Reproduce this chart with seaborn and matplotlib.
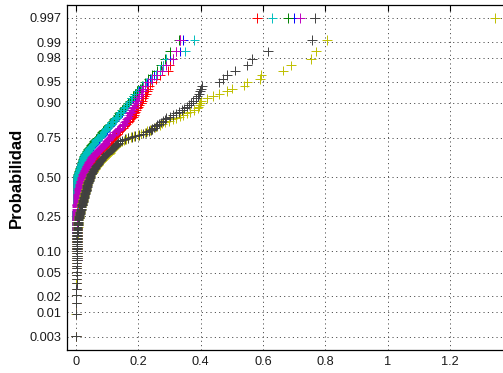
import numpy as np
import pandas as pd
import matplotlib
matplotlib.use("Agg")
import matplotlib.pyplot as plt
import seaborn as sns
from statistics import NormalDist

# ---- data: sorted sample values of each series ----
serie_b = [0.000,0.001,0.001,0.001,0.001,0.002,0.002,0.002,0.002,0.002,
           0.002,0.002,0.003,0.003,0.003,0.003,0.003,0.003,0.003,0.003,
           0.003,0.003,0.004,0.004,0.004,0.004,0.004,0.004,0.004,0.004,
           0.004,0.004,0.004,0.004,0.004,0.004,0.004,0.004,0.004,0.004,
           0.004,0.004,0.004,0.004,0.004,0.004,0.004,0.005,0.005,0.005,
           0.005,0.005,0.005,0.005,0.005,0.005,0.005,0.005,0.005,0.005,
           0.005,0.005,0.005,0.005,0.005,0.005,0.006,0.006,0.006,0.006,
           0.006,0.006,0.006,0.006,0.006,0.006,0.006,0.006,0.006,0.006,
           0.006,0.006,0.007,0.007,0.008,0.008,0.009,0.010,0.011,0.012,
           0.013,0.014,0.015,0.016,0.017,0.018,0.019,0.020,0.021,0.022,
           0.023,0.024,0.025,0.026,0.027,0.029,0.030,0.032,0.033,0.035,
           0.037,0.039,0.041,0.043,0.045,0.048,0.051,0.054,0.057,0.060,
           0.063,0.066,0.069,0.073,0.077,0.080,0.083,0.086,0.089,0.092,
           0.095,0.098,0.101,0.105,0.109,0.113,0.117,0.121,0.125,0.129,
           0.133,0.137,0.141,0.146,0.151,0.156,0.161,0.166,0.171,0.176,
           0.182,0.188,0.195,0.203,0.212,0.220,0.228,0.237,0.250,0.270,
           0.280,0.300,0.335,0.343,0.700]

serie_g = [0.000,0.001,0.001,0.001,0.001,0.002,0.002,0.002,0.002,0.002,
           0.002,0.002,0.003,0.003,0.003,0.003,0.003,0.003,0.003,0.003,
           0.003,0.003,0.004,0.004,0.004,0.004,0.004,0.004,0.004,0.004,
           0.004,0.004,0.004,0.004,0.004,0.004,0.004,0.004,0.004,0.004,
           0.004,0.004,0.004,0.004,0.004,0.004,0.004,0.005,0.005,0.005,
           0.005,0.005,0.005,0.005,0.005,0.005,0.005,0.005,0.005,0.005,
           0.005,0.005,0.005,0.005,0.005,0.005,0.006,0.006,0.006,0.006,
           0.006,0.006,0.006,0.006,0.006,0.006,0.006,0.006,0.006,0.006,
           0.006,0.006,0.006,0.007,0.007,0.007,0.008,0.008,0.009,0.010,
           0.011,0.012,0.013,0.014,0.015,0.016,0.017,0.018,0.019,0.020,
           0.021,0.022,0.023,0.024,0.025,0.026,0.027,0.028,0.030,0.031,
           0.033,0.035,0.037,0.039,0.041,0.043,0.046,0.049,0.052,0.055,
           0.058,0.061,0.064,0.068,0.072,0.075,0.078,0.081,0.084,0.087,
           0.090,0.094,0.098,0.102,0.106,0.110,0.114,0.118,0.122,0.126,
           0.130,0.134,0.138,0.142,0.147,0.152,0.157,0.162,0.167,0.172,
           0.178,0.184,0.190,0.197,0.204,0.212,0.220,0.232,0.245,0.260,
           0.272,0.285,0.300,0.330,0.680]

serie_r = [0.000,0.001,0.001,0.001,0.001,0.002,0.002,0.002,0.002,0.002,
           0.002,0.002,0.003,0.003,0.003,0.003,0.003,0.003,0.003,0.003,
           0.003,0.003,0.004,0.004,0.004,0.004,0.004,0.004,0.004,0.004,
           0.004,0.004,0.004,0.004,0.004,0.004,0.004,0.004,0.004,0.004,
           0.004,0.005,0.005,0.005,0.006,0.006,0.006,0.007,0.007,0.008,
           0.008,0.008,0.009,0.009,0.010,0.010,0.011,0.011,0.012,0.012,
           0.013,0.013,0.014,0.014,0.015,0.015,0.016,0.016,0.017,0.017,
           0.018,0.018,0.019,0.020,0.020,0.021,0.022,0.022,0.023,0.024,
           0.025,0.026,0.027,0.028,0.029,0.030,0.031,0.032,0.033,0.034,
           0.035,0.036,0.037,0.039,0.040,0.042,0.043,0.045,0.046,0.048,
           0.050,0.052,0.054,0.056,0.058,0.060,0.063,0.066,0.069,0.072,
           0.075,0.078,0.081,0.084,0.087,0.091,0.095,0.099,0.103,0.107,
           0.111,0.114,0.117,0.120,0.123,0.126,0.129,0.132,0.135,0.138,
           0.142,0.146,0.150,0.154,0.158,0.162,0.166,0.170,0.174,0.178,
           0.182,0.185,0.188,0.191,0.194,0.197,0.200,0.204,0.208,0.212,
           0.216,0.220,0.224,0.228,0.232,0.236,0.245,0.255,0.270,0.295,
           0.300,0.310,0.320,0.335,0.580]

serie_c = [0.000,0.001,0.001,0.001,0.001,0.002,0.002,0.002,0.002,0.002,
           0.002,0.002,0.003,0.003,0.003,0.003,0.003,0.003,0.003,0.003,
           0.003,0.003,0.004,0.004,0.004,0.004,0.004,0.004,0.004,0.004,
           0.004,0.004,0.004,0.004,0.004,0.004,0.004,0.004,0.004,0.004,
           0.004,0.004,0.004,0.004,0.004,0.004,0.004,0.005,0.005,0.005,
           0.005,0.005,0.005,0.005,0.005,0.005,0.005,0.005,0.005,0.005,
           0.005,0.005,0.005,0.005,0.005,0.005,0.006,0.006,0.006,0.006,
           0.006,0.006,0.006,0.006,0.006,0.006,0.006,0.006,0.006,0.006,
           0.006,0.006,0.006,0.007,0.007,0.008,0.008,0.009,0.010,0.011,
           0.012,0.013,0.014,0.015,0.016,0.017,0.018,0.019,0.020,0.021,
           0.022,0.023,0.024,0.025,0.026,0.028,0.029,0.031,0.032,0.034,
           0.036,0.038,0.040,0.042,0.044,0.047,0.050,0.053,0.056,0.059,
           0.062,0.065,0.068,0.072,0.076,0.079,0.082,0.085,0.088,0.091,
           0.094,0.097,0.100,0.104,0.108,0.112,0.116,0.120,0.124,0.128,
           0.132,0.136,0.140,0.145,0.150,0.155,0.160,0.165,0.170,0.175,
           0.180,0.186,0.192,0.200,0.208,0.216,0.225,0.240,0.255,0.270,
           0.280,0.290,0.350,0.380,0.630]

serie_m = [0.000,0.001,0.001,0.001,0.001,0.002,0.002,0.002,0.002,0.002,
           0.002,0.002,0.003,0.003,0.003,0.003,0.003,0.003,0.003,0.003,
           0.003,0.003,0.004,0.004,0.004,0.004,0.004,0.004,0.004,0.004,
           0.004,0.004,0.004,0.004,0.004,0.004,0.004,0.004,0.004,0.004,
           0.004,0.004,0.004,0.004,0.004,0.004,0.004,0.004,0.004,0.004,
           0.004,0.004,0.004,0.004,0.005,0.005,0.005,0.005,0.006,0.006,
           0.006,0.007,0.007,0.007,0.008,0.008,0.008,0.009,0.009,0.010,
           0.010,0.011,0.012,0.012,0.013,0.014,0.014,0.015,0.016,0.017,
           0.018,0.019,0.020,0.021,0.021,0.022,0.023,0.024,0.025,0.027,
           0.028,0.030,0.031,0.033,0.034,0.036,0.037,0.039,0.040,0.042,
           0.044,0.046,0.048,0.050,0.052,0.055,0.057,0.060,0.062,0.065,
           0.068,0.071,0.074,0.077,0.080,0.083,0.086,0.089,0.092,0.095,
           0.098,0.101,0.104,0.107,0.110,0.114,0.118,0.122,0.126,0.130,
           0.134,0.138,0.142,0.146,0.150,0.153,0.156,0.159,0.162,0.165,
           0.168,0.171,0.174,0.177,0.180,0.183,0.186,0.189,0.192,0.195,
           0.199,0.203,0.207,0.211,0.215,0.220,0.230,0.245,0.260,0.275,
           0.290,0.310,0.320,0.334,0.720]

serie_y = [0.000,0.000,0.001,0.001,0.001,0.001,0.002,0.002,0.002,0.002,
           0.002,0.002,0.002,0.003,0.003,0.003,0.003,0.003,0.003,0.003,
           0.003,0.004,0.004,0.004,0.004,0.004,0.004,0.005,0.005,0.005,
           0.005,0.005,0.006,0.006,0.006,0.007,0.007,0.008,0.008,0.009,
           0.009,0.010,0.011,0.011,0.012,0.013,0.014,0.014,0.015,0.016,
           0.017,0.018,0.018,0.019,0.020,0.021,0.022,0.022,0.023,0.024,
           0.025,0.026,0.026,0.027,0.028,0.029,0.030,0.030,0.031,0.032,
           0.033,0.034,0.034,0.035,0.036,0.037,0.038,0.039,0.040,0.041,
           0.042,0.043,0.044,0.046,0.047,0.049,0.050,0.052,0.054,0.056,
           0.058,0.060,0.062,0.064,0.066,0.068,0.070,0.072,0.075,0.078,
           0.081,0.084,0.087,0.090,0.093,0.096,0.099,0.102,0.105,0.108,
           0.111,0.114,0.117,0.120,0.123,0.126,0.129,0.132,0.136,0.140,
           0.146,0.153,0.160,0.168,0.176,0.186,0.198,0.210,0.220,0.228,
           0.236,0.244,0.252,0.260,0.268,0.276,0.286,0.298,0.310,0.320,
           0.332,0.344,0.355,0.366,0.378,0.390,0.393,0.396,0.398,0.400,
           0.420,0.440,0.460,0.484,0.500,0.540,0.550,0.590,0.595,0.665,
           0.690,0.754,0.770,0.805,1.345]

serie_k = [0.000,0.001,0.001,0.001,0.001,0.002,0.002,0.002,0.002,0.002,
           0.002,0.002,0.003,0.003,0.003,0.003,0.003,0.003,0.003,0.003,
           0.003,0.003,0.004,0.004,0.004,0.004,0.004,0.004,0.004,0.005,
           0.005,0.005,0.005,0.006,0.006,0.006,0.007,0.008,0.008,0.009,
           0.010,0.010,0.011,0.012,0.013,0.013,0.014,0.015,0.016,0.017,
           0.018,0.019,0.019,0.020,0.021,0.022,0.023,0.023,0.024,0.025,
           0.026,0.027,0.027,0.028,0.029,0.030,0.031,0.031,0.032,0.033,
           0.034,0.035,0.035,0.036,0.037,0.038,0.039,0.040,0.041,0.042,
           0.043,0.044,0.045,0.046,0.047,0.048,0.050,0.051,0.053,0.055,
           0.056,0.058,0.060,0.062,0.064,0.066,0.068,0.070,0.072,0.075,
           0.077,0.080,0.082,0.085,0.088,0.091,0.094,0.097,0.100,0.103,
           0.106,0.109,0.112,0.116,0.120,0.123,0.126,0.129,0.132,0.135,
           0.140,0.148,0.158,0.168,0.178,0.190,0.203,0.215,0.225,0.233,
           0.240,0.245,0.250,0.255,0.260,0.266,0.272,0.278,0.285,0.290,
           0.300,0.310,0.320,0.330,0.340,0.348,0.355,0.362,0.368,0.375,
           0.385,0.390,0.395,0.398,0.400,0.405,0.460,0.470,0.485,0.510,
           0.550,0.565,0.616,0.757,0.767]

series_names = ["b", "g", "r", "c", "m", "y", "k"]
series_values = [serie_b, serie_g, serie_r, serie_c, serie_m, serie_y, serie_k]

prob_ticks = [0.003, 0.01, 0.02, 0.05, 0.10, 0.25, 0.50, 0.75, 0.90, 0.95, 0.98, 0.99, 0.997]
prob_labels = ["0.003", "0.01", "0.02", "0.05", "0.10", "0.25", "0.50",
               "0.75", "0.90", "0.95", "0.98", "0.99", "0.997"]
x_ticks = [0, 0.2, 0.4, 0.6, 0.8, 1.0, 1.2]
x_labels = ["0", "0.2", "0.4", "0.6", "0.8", "1", "1.2"]

palette = {"b": (0, 0, 1), "g": (0, 0.5, 0), "r": (1, 0, 0), "c": (0, 0.75, 0.75),
           "m": (0.75, 0, 0.75), "y": (0.75, 0.75, 0), "k": (0.25, 0.25, 0.25)}

# ---- long table with normal-probability plotting positions ----
frames = []
for name, vals in zip(series_names, series_values):
    v = np.sort(np.asarray(vals, float))
    n = len(v)
    p = (np.arange(1, n + 1) - 0.5) / n
    frames.append(pd.DataFrame({"valor": v, "prob": p, "serie": name}))
df = pd.concat(frames, ignore_index=True)

# ---- normal probability scale ----
_nd = NormalDist()
_ppf = np.vectorize(lambda q: _nd.inv_cdf(min(max(float(q), 1e-12), 1 - 1e-12)), otypes=[float])
_cdf = np.vectorize(lambda z: _nd.cdf(float(z)), otypes=[float])

def fwd(p):
    return _ppf(np.asarray(p, float))

def inv(z):
    return _cdf(np.asarray(z, float))

sns.set_style("white")
plt.rcParams["font.family"] = ["Liberation Sans", "DejaVu Sans"]

fig = plt.figure(figsize=(5.03, 3.73), dpi=100)
ax = fig.add_axes([67 / 503, 23 / 373, 436 / 503, 345 / 373])
ax.set_yscale("function", functions=(fwd, inv))

sns.scatterplot(data=df, x="valor", y="prob", hue="serie", palette=palette,
                hue_order=series_names, marker="+", s=48, linewidth=0.7,
                legend=False, ax=ax, zorder=3)

ax.set_xlim(-0.029, 1.370)
ax.set_ylim(_nd.cdf(-2.98), _nd.cdf(2.965))
ax.set_yticks(prob_ticks)
ax.set_yticklabels(prob_labels)
ax.set_xticks(x_ticks)
ax.set_xticklabels(x_labels)
ax.yaxis.set_minor_locator(matplotlib.ticker.NullLocator())

ax.grid(True, linestyle=(0, (1.2, 3.6)), color="#3a3a3a", linewidth=0.65)
ax.set_axisbelow(True)
ax.tick_params(direction="in", length=4, width=0.8, labelsize=9.2,
               colors="black", labelcolor="#1a1a1a", pad=4,
               top=True, right=False)
for side in ["left", "bottom", "top"]:
    ax.spines[side].set_visible(True)
    ax.spines[side].set_color("black")
    ax.spines[side].set_linewidth(0.9)
ax.spines["right"].set_visible(False)

ax.set_xlabel("")
ax.set_ylabel("Probabilidad", fontsize=12, fontweight="bold", color="black")
ax.yaxis.set_label_coords((24 - 67) / 436, 0.5)

fig.savefig("out.png", dpi=100)
